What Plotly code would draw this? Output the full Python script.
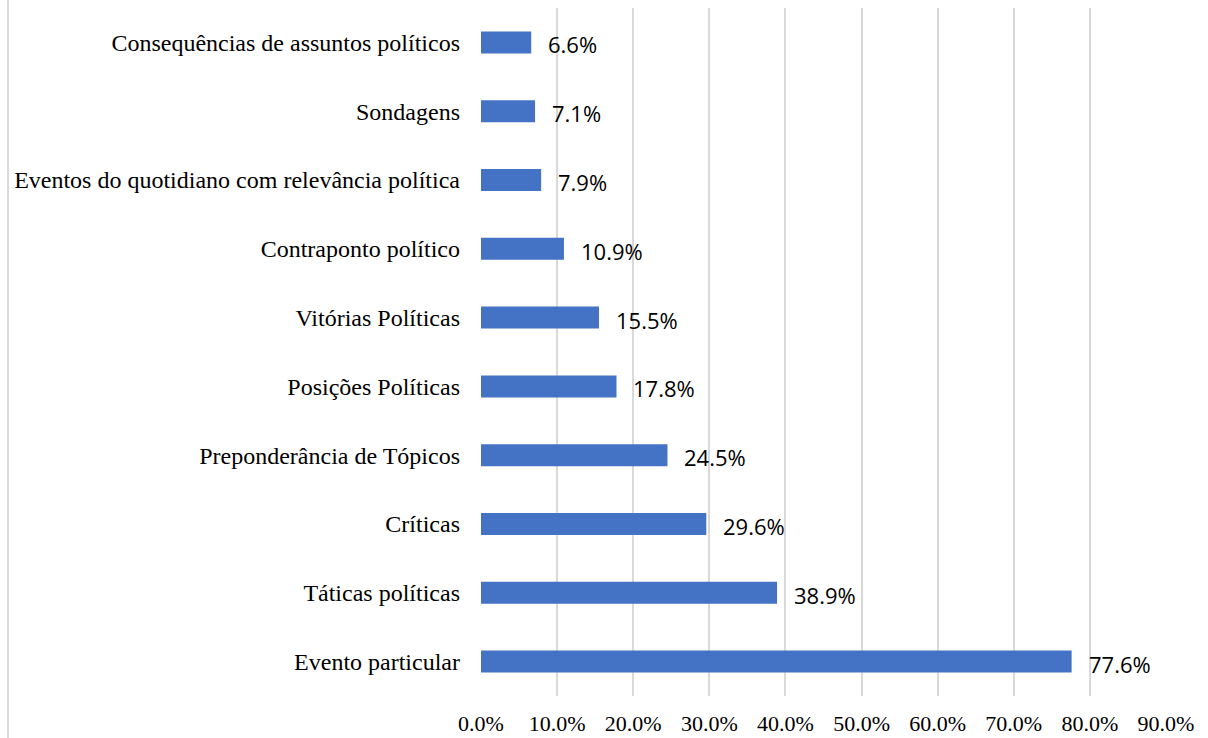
import plotly.graph_objects as go

categories = [
    "Evento particular",
    "Táticas políticas",
    "Críticas",
    "Preponderância de Tópicos",
    "Posições Políticas",
    "Vitórias Políticas",
    "Contraponto político",
    "Eventos do quotidiano com relevância política",
    "Sondagens",
    "Consequências de assuntos políticos",
]
values = [77.6, 38.9, 29.6, 24.5, 17.8, 15.5, 10.9, 7.9, 7.1, 6.6]
x_ticks = [0, 10, 20, 30, 40, 50, 60, 70, 80, 90]
x_tick_labels = ["%.1f%%" % v for v in x_ticks]

W, H = 1208, 738
L, R, T, B = 481, 42, 8, 42
pw, ph = W - L - R, H - T - B

serif = "Liberation Serif"
sans = "Open Sans"

fig = go.Figure(
    go.Bar(
        x=values,
        y=categories,
        orientation="h",
        width=0.32,
        marker=dict(color="#4472C4", line=dict(width=0)),
        hoverinfo="x+y",
    )
)

annotations = [
    dict(
        x=v,
        y=c,
        xref="x",
        yref="y",
        text="%.1f%%" % v,
        showarrow=False,
        xanchor="left",
        yanchor="middle",
        xshift=15,
        yshift=-2,
        font=dict(family=sans, size=22, color="#000000"),
    )
    for c, v in zip(categories, values)
]

fig.update_layout(
    width=W,
    height=H,
    margin=dict(l=L, r=R, t=T, b=B, pad=0, autoexpand=False),
    paper_bgcolor="white",
    plot_bgcolor="white",
    showlegend=False,
    annotations=annotations,
    xaxis=dict(
        range=[0, 90],
        tickvals=x_ticks,
        ticktext=x_tick_labels,
        showgrid=True,
        gridcolor="#D9D9D9",
        gridwidth=2,
        zeroline=False,
        showline=False,
        ticks="",
        automargin=False,
        tickfont=dict(family=serif, size=22, color="#000000"),
        ticklabelstandoff=12,
    ),
    yaxis=dict(
        range=[-0.5, 9.5],
        showgrid=False,
        zeroline=False,
        showline=False,
        ticks="",
        automargin=False,
        tickfont=dict(family=serif, size=24, color="#000000"),
        ticklabelstandoff=20,
    ),
    shapes=[
        dict(
            type="line",
            xref="paper",
            yref="paper",
            x0=(8 - L) / pw,
            x1=(8 - L) / pw,
            y0=-B / ph,
            y1=1 + T / ph,
            line=dict(color="#D9D9D9", width=2),
        )
    ],
)

fig.write_html("out.html")
